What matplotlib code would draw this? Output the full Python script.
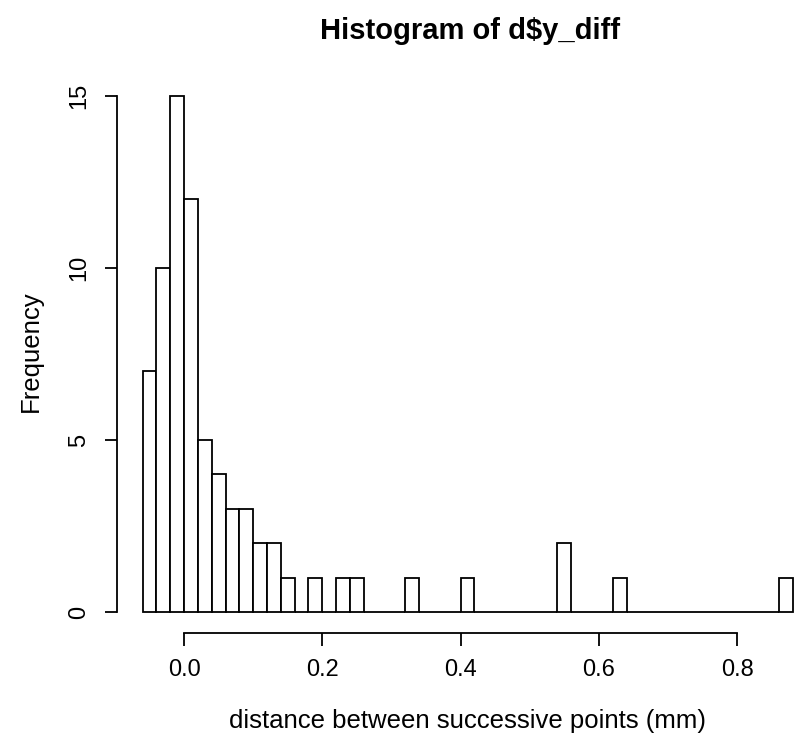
import numpy as np
import matplotlib
matplotlib.use("Agg")
import matplotlib.pyplot as plt

# --- DATA ---
bin_start = -0.06
bin_width = 0.02
counts = [7, 10, 15, 12, 5, 4, 3, 3, 2, 2,   # -0.06 .. 0.14
          1, 0, 1, 0, 1, 1, 0, 0, 0, 1,     # 0.14 .. 0.34
          0, 0, 0, 1, 0, 0, 0, 0, 0, 0,     # 0.34 .. 0.54
          2, 0, 0, 0, 1, 0, 0, 0, 0, 0,     # 0.54 .. 0.74
          0, 0, 0, 0, 0, 0, 1]              # 0.74 .. 0.88
x_ticks = [0.0, 0.2, 0.4, 0.6, 0.8]
x_tick_labels = ["0.0", "0.2", "0.4", "0.6", "0.8"]
y_ticks = [0, 5, 10, 15]

title = "Histogram of d$y_diff"
x_label = "distance between successive points (mm)"
y_label = "Frequency"

# --- PLOT ---
plt.rcParams['font.family'] = ['Liberation Sans', 'DejaVu Sans']

fig = plt.figure(figsize=(7.96, 7.38), dpi=100)
ax = fig.add_axes([0.1464, 0.1428, 0.8536, 0.755])

edges = bin_start + bin_width * np.arange(len(counts))
ax.bar(edges, counts, width=bin_width, align='edge',
       facecolor='white', edgecolor='black', linewidth=1.3)

ax.set_xlim(-0.0976, 0.885)
ax.set_ylim(-0.6, 15.6)

# R-style axes: detached lines spanning the tick range only
for side in ['top', 'right']:
    ax.spines[side].set_visible(False)
ax.spines['left'].set_bounds(0, 15)
ax.spines['bottom'].set_bounds(0, 0.8)
for side in ['left', 'bottom']:
    ax.spines[side].set_linewidth(1.3)

ax.set_xticks(x_ticks)
ax.set_xticklabels(x_tick_labels)
ax.set_yticks(y_ticks)
ax.set_yticklabels([str(v) for v in y_ticks], rotation=90, va='center')
ax.tick_params(direction='out', length=9, width=1.3, labelsize=17, pad=10)

# the original plot region runs past the right edge, so labels sit a bit right of centre
ax.set_xlabel(x_label, fontsize=18.5)
ax.xaxis.set_label_coords(0.5166, -0.137)
ax.set_ylabel(y_label, fontsize=18.5)
ax.yaxis.set_label_coords(-0.109, 0.505)
fig.text(0.59, 0.958, title, fontsize=21, fontweight='bold',
         ha='center', va='center')

fig.savefig("out.png", dpi=100)
